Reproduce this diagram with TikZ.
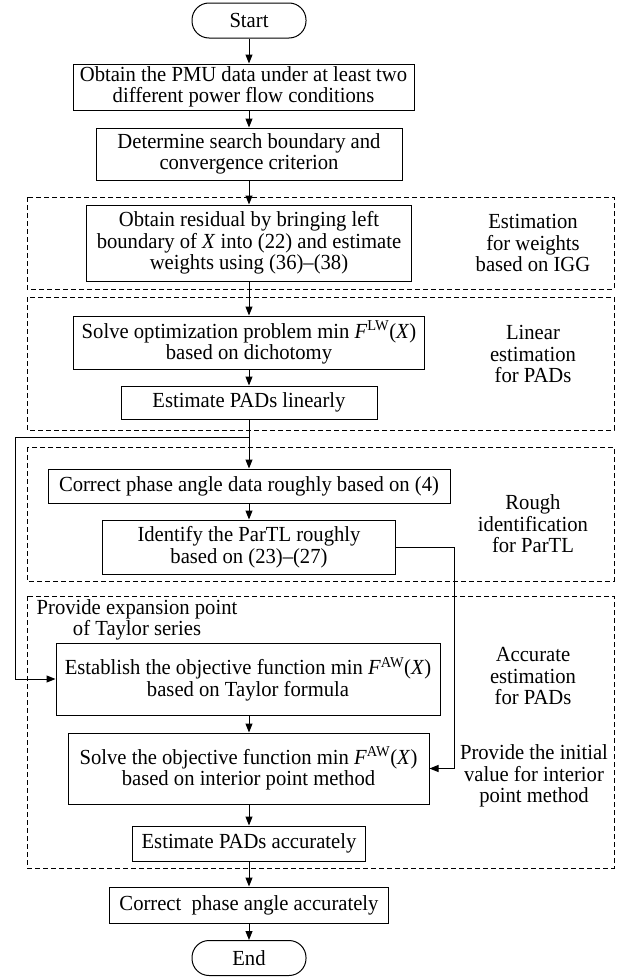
\documentclass[tikz,border=0pt]{standalone}
\usepackage{fontspec}
\setmainfont{Liberation Serif}[FakeStretch=0.96]
\usetikzlibrary{arrows.meta}
\newcommand{\FAW}{\textit{F}\textsuperscript{AW}(\textit{X})}
\newcommand{\FLW}{\textit{F}\textsuperscript{LW}(\textit{X})}
\begin{document}
\begin{tikzpicture}[x=1pt,y=-1pt,
  every node/.style={font=\fontsize{21.5}{21.5}\selectfont},
  box/.style={draw,line width=1pt,align=center,inner sep=0pt},
  term/.style={draw,line width=1pt,rounded corners=17pt,inner sep=0pt,minimum width=114pt,minimum height=35pt},
  region/.style={draw,line width=0.9pt,dash pattern=on 5pt off 3pt},
  lbl/.style={align=center,inner sep=0pt},
  arr/.style={line width=1pt,-{Triangle[length=9pt,width=7pt]}},
  ln/.style={line width=1pt}]
\useasboundingbox (0,0) rectangle (616,977);
% regions
\draw[region] (27,197) rectangle (614,289);
\draw[region] (27,297) rectangle (614,430);
\draw[region] (27,447) rectangle (614,581);
\draw[region] (27,596) rectangle (614,868);
% terminals and boxes
\node[term] (start) at (249,20.5) {Start};
\node[box,minimum width=341pt,minimum height=46pt] (b1) at (243.5,87) {Obtain the PMU data under at least two\\different power flow conditions};
\node[box,minimum width=306pt,minimum height=52pt] (b2) at (249,154) {Determine search boundary and\\convergence criterion};
\node[box,minimum width=325pt,minimum height=76pt] (b3) at (249,243) {Obtain residual by bringing left\\boundary of \textit{X} into (22) and estimate\\weights using (36)–(38)};
\node[box,minimum width=351pt,minimum height=53pt] (b4) at (249,342.5) {Solve optimization problem min \FLW\\based on dichotomy};
\node[box,minimum width=256pt,minimum height=33pt] (b5) at (249,402.5) {Estimate PADs linearly};
\node[box,minimum width=402pt,minimum height=34pt] (b6) at (249,486) {Correct phase angle data roughly based on (4)};
\node[box,minimum width=293pt,minimum height=54pt] (b7) at (249,547) {Identify the ParTL roughly\\based on (23)–(27)};
\node[box,minimum width=384pt,minimum height=72pt] (b8) at (248,679) {Establish the objective function min \FAW\\based on Taylor formula};
\node[box,minimum width=361pt,minimum height=71pt] (b9) at (248.5,768.5) {Solve the objective function min \FAW\\based on interior point method};
\node[box,minimum width=233pt,minimum height=35pt] (b10) at (249,843.5) {Estimate PADs accurately};
\node[box,minimum width=279pt,minimum height=36pt] (b11) at (249,905) {Correct\ \ phase angle accurately};
\node[term] (end) at (249,958) {End};
% labels
\node[lbl] (l1) at (533,243) {Estimation\\for weights\\based on IGG};
\node[lbl] (l2) at (533,354) {Linear\\estimation\\for PADs};
\node[lbl] (l3) at (533,524) {Rough\\identification\\for ParTL};
\node[lbl] (l4) at (533,676) {Accurate\\estimation\\for PADs};
\node[lbl] (l5) at (534,776) {Provide the initial\\value for interior\\point method};
\node[lbl] (l6) at (137,620) {Provide expansion point\\of Taylor series};
% connectors
\draw[arr] (start) -- (start |- b1.north);
\draw[arr] (start |- b1.south) -- (b2);
\draw[arr] (b2) -- (b3);
\draw[arr] (b3) -- (b4);
\draw[arr] (b4) -- (b5);
\draw[arr] (b5) -- (b6);
\draw[arr] (b6) -- (b7);
\draw[arr] (start |- b8.south) -- (start |- b9.north);
\draw[arr] (start |- b9.south) -- (b10);
\draw[arr] (b10) -- (b11);
\draw[arr] (b11) -- (end);
\coordinate (fj) at (249,437);
\coordinate (fl) at (15,437);
\draw[arr] (fj) -- (fl) |- (b8.west);
\coordinate (rx) at (454,548);
\draw[arr] (b7.east) -- (b7.east -| rx) |- (b9.east);
\end{tikzpicture}
\end{document}
